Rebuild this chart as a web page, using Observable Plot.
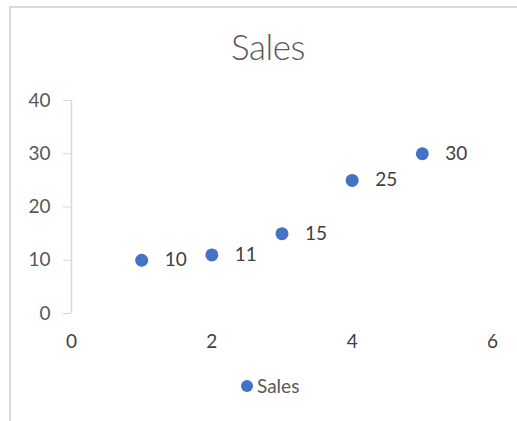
<!DOCTYPE html>
<html>
<head>
<meta charset="utf-8">
<script src="https://cdn.jsdelivr.net/npm/d3@7"></script>
<script src="https://cdn.jsdelivr.net/npm/@observablehq/plot@0.6"></script>
<style>
  html, body { margin: 0; padding: 0; background: #fff; }
  #wrap { position: relative; width: 517px; height: 421px; overflow: hidden; font-family: Lato, "Open Sans", sans-serif; }
  #frame { position: absolute; left: 9px; top: 6px; width: 600px; height: 500px; border-left: 2px solid #d9d9d9; border-top: 2px solid #d9d9d9; box-sizing: border-box; }
  #title { position: absolute; left: 168px; width: 200px; top: 24px; text-align: center; font-size: 35px; font-weight: 300; color: #595959; line-height: 44px; letter-spacing: -0.5px; }
  #chart { position: absolute; left: 0; top: 80px; }
  #legend { position: absolute; left: 241px; top: 374px; font-size: 19px; color: #595959; display: flex; align-items: center; line-height: 24px; }
  #legend .sw { width: 12px; height: 12px; border-radius: 50%; background: #4472C4; margin-right: 4px; }
</style>
</head>
<body>
<div id="wrap">
  <div id="frame"></div>
  <div id="title">Sales</div>
  <div id="chart"></div>
  <div id="legend"><span class="sw"></span><span>Sales</span></div>
</div>
<script>
const seriesName = "Sales";
const xValues = [1, 2, 3, 4, 5];
const salesValues = [10, 11, 15, 25, 30];
const xTicks = [0, 2, 4, 6];
const yTicks = [0, 10, 20, 30, 40];

const data = xValues.map((x, i) => ({x, y: salesValues[i]}));

const chart = Plot.plot({
  width: 517,
  height: 280,
  marginLeft: 71,
  marginRight: 25,
  marginTop: 20,
  marginBottom: 47,
  style: {fontFamily: "Lato, 'Open Sans', sans-serif", fontSize: "19px", color: "#595959", background: "transparent"},
  x: {domain: [0, 6], ticks: xTicks, label: null},
  y: {domain: [0, 40], ticks: yTicks, label: null},
  marks: [
    Plot.ruleX([0], {y1: 0, y2: 40, stroke: "#d9d9d9", strokeWidth: 1.5}),
    Plot.axisY({ticks: yTicks, tickFormat: "d", label: null, tickSize: 8, tickPadding: 13, stroke: "#d9d9d9", fill: "#595959", fontSize: 19}),
    Plot.axisX({ticks: xTicks, tickFormat: "d", label: null, tickSize: 0, tickPadding: 21, fill: "#404040", fontSize: 19}),
    Plot.dot(data, {x: "x", y: "y", r: 6.5, fill: "#4472C4", stroke: null}),
    Plot.text(data, {x: "x", y: "y", text: d => String(d.y), dx: 23, textAnchor: "start", fill: "#404040", fontSize: 19})
  ]
});
document.getElementById("chart").appendChild(chart);
</script>
</body>
</html>
